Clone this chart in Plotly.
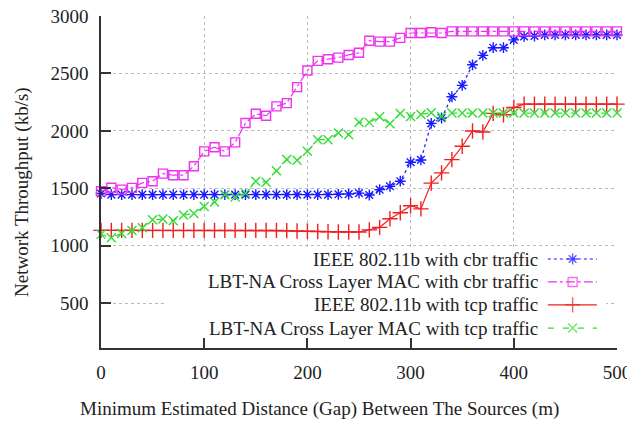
import plotly.graph_objects as go

distance = list(range(0, 501, 10))

ieee_cbr = [1455, 1445, 1445, 1445, 1445, 1445, 1445, 1445, 1445, 1445,
            1445, 1445, 1445, 1445, 1445, 1445, 1445, 1445, 1445, 1445,
            1445, 1445, 1445, 1448, 1450, 1458, 1442, 1489, 1518, 1562,
            1727, 1747, 2065, 2112, 2297, 2396, 2575, 2657, 2724, 2724,
            2792, 2823, 2826, 2835, 2835, 2835, 2835, 2835, 2835, 2835, 2835]

lbt_cbr = [1475, 1505, 1489, 1504, 1547, 1562, 1628, 1614, 1614, 1692,
           1822, 1858, 1822, 1900, 2068, 2149, 2132, 2213, 2242, 2381,
           2525, 2609, 2624, 2638, 2661, 2680, 2785, 2777, 2777, 2810,
           2852, 2852, 2858, 2852, 2866, 2866, 2866, 2866, 2866, 2866,
           2866, 2866, 2866, 2866, 2866, 2866, 2866, 2866, 2866, 2866, 2866]

ieee_tcp = [1134, 1134, 1134, 1134, 1134, 1134, 1134, 1134, 1134, 1134,
            1134, 1134, 1134, 1134, 1134, 1134, 1134, 1134, 1132, 1128,
            1126, 1124, 1122, 1120, 1120, 1120, 1138, 1160, 1235, 1287,
            1348, 1321, 1545, 1634, 1750, 1866, 1999, 1990, 2152, 2141,
            2203, 2233, 2233, 2233, 2233, 2233, 2233, 2233, 2233, 2233, 2233]

lbt_tcp = [1099, 1070, 1107, 1132, 1157, 1226, 1232, 1218, 1268, 1280,
           1342, 1380, 1444, 1424, 1458, 1562, 1553, 1653, 1750, 1744,
           1822, 1923, 1923, 1981, 1967, 2075, 2074, 2123, 2062, 2152,
           2126, 2143, 2158, 2126, 2155, 2155, 2155, 2155, 2155, 2155,
           2155, 2155, 2155, 2155, 2155, 2155, 2155, 2155, 2155, 2155, 2155]

series_names = ["IEEE 802.11b with cbr traffic",
                "LBT-NA Cross Layer MAC with cbr traffic",
                "IEEE 802.11b with tcp traffic",
                "LBT-NA Cross Layer MAC with tcp traffic"]
series_values = [ieee_cbr, lbt_cbr, ieee_tcp, lbt_tcp]
colors = ["#1a1aff", "#ee33ee", "#ee2020", "#33dd33"]
dashes = ["dot", "dashdot", "solid", "6px,9px"]
symbols = ["asterisk-open", "square-open", "cross-thin-open", "x-thin-open"]
msizes = [9, 9, 11, 9]

x_ticks = [0, 100, 200, 300, 400, 500]
y_ticks = [500, 1000, 1500, 2000, 2500, 3000]

FONT = "Liberation Serif, Times New Roman, DejaVu Serif, serif"
TXT = "#222222"
FS = 19

fig = go.Figure()

for name, vals, c, d, s, ms in zip(series_names, series_values, colors, dashes, symbols, msizes):
    fig.add_trace(go.Scatter(
        x=distance, y=vals, mode="lines+markers", name=name,
        line=dict(color=c, width=1.2, dash=d),
        marker=dict(symbol=s, size=ms, color=c, line=dict(color=c, width=1.4)),
        cliponaxis=False, showlegend=False))

# white legend box (covers gridlines), drawn on an overlay axis pair
fig.add_trace(go.Scatter(
    x=[0.124, 0.979, 0.979, 0.124, 0.124], y=[0.006, 0.006, 0.295, 0.295, 0.006],
    xaxis="x2", yaxis="y2", mode="lines", fill="toself",
    fillcolor="white", line=dict(width=0, color="white"),
    showlegend=False, hoverinfo="skip"))

# manual legend (text right-aligned, sample on the right)
legend_rows = [0.268, 0.199, 0.130, 0.060]
for name, c, d, s, ms, ry in zip(series_names, colors, dashes, symbols, msizes, legend_rows):
    fig.add_trace(go.Scatter(
        x=[0.866, 0.914, 0.961], y=[ry, ry, ry], mode="lines+markers",
        xaxis="x2", yaxis="y2",
        line=dict(color=c, width=1.2, dash=d),
        marker=dict(symbol=s, size=[0, ms, 0], color=c, line=dict(color=c, width=1.4)),
        cliponaxis=False, showlegend=False, hoverinfo="skip"))
    fig.add_annotation(xref="paper", yref="paper", x=0.851, y=ry, text=name,
                       showarrow=False, xanchor="right", yanchor="middle",
                       font=dict(family=FONT, size=FS, color=TXT))

fig.add_annotation(xref="paper", yref="paper", x=0.424, y=-0.184,
                   text="Minimum Estimated Distance (Gap) Between The Sources (m)",
                   showarrow=False, xanchor="center", yanchor="middle",
                   font=dict(family=FONT, size=FS, color=TXT))
fig.add_annotation(xref="paper", yref="paper", x=-0.153, y=0.47,
                   text="Network Throughput (kb/s)", textangle=-90,
                   showarrow=False, xanchor="center", yanchor="middle",
                   font=dict(family=FONT, size=FS, color=TXT))

axis_common = dict(showline=True, linecolor="#333333", linewidth=1.5,
                   ticks="inside", ticklen=10, tickcolor="#333333", tickwidth=1.5,
                   showgrid=True, gridcolor="#bbbbbb", gridwidth=1, griddash="dot",
                   zeroline=False, tickfont=dict(family=FONT, size=FS, color=TXT),
                   mirror=False, automargin=False, layer="above traces",
                   ticklabeloverflow="allow")

# the page has an 8px body margin, so the figure is 8px smaller than the window
fig.update_layout(
    width=627, height=415,
    margin=dict(l=93, r=18, t=8, b=75, autoexpand=False),
    paper_bgcolor="white", plot_bgcolor="white",
    font=dict(family=FONT, color=TXT),
    xaxis=dict(range=[0, 500], tickvals=x_ticks, ticklabelstandoff=6, **axis_common),
    yaxis=dict(range=[110, 3000], tickvals=y_ticks, ticklabelstandoff=7, **axis_common),
    xaxis2=dict(range=[0, 1], overlaying="x", visible=False),
    yaxis2=dict(range=[0, 1], overlaying="y", visible=False),
    showlegend=False,
)

fig.write_html("out.html")
